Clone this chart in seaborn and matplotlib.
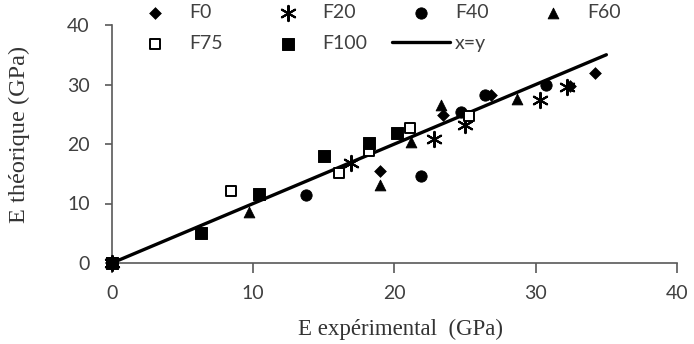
import matplotlib
matplotlib.use("Agg")
import matplotlib.pyplot as plt
import seaborn as sns
import pandas as pd

# ---- data ----
f0_x = [0, 19.0, 23.4, 26.8, 32.4, 34.2]
f0_y = [0, 15.5, 24.9, 28.3, 29.7, 31.9]
f20_x = [0, 16.9, 22.8, 25.0, 30.3, 32.2]
f20_y = [0, 16.8, 20.8, 23.2, 27.4, 29.5]
f40_x = [0, 13.7, 21.9, 24.7, 26.4, 30.7]
f40_y = [0, 11.4, 14.6, 25.3, 28.2, 29.9]
f60_x = [0, 9.7, 19.0, 21.2, 23.3, 28.7]
f60_y = [0, 8.5, 13.1, 20.4, 26.6, 27.6]
f75_x = [0, 8.4, 16.1, 18.2, 21.1, 25.3]
f75_y = [0, 12.1, 15.2, 18.9, 22.7, 24.7]
f100_x = [0, 6.3, 10.4, 15.0, 18.2, 20.2]
f100_y = [0, 5.0, 11.6, 17.9, 20.1, 21.8]
line_x = [0, 35]
line_y = [0, 35]
series_names = ["F0", "F20", "F40", "F60", "F75", "F100"]
ticks = [0, 10, 20, 30, 40]
xlabel = "E expérimental  (GPa)"
ylabel = "E théorique (GPa)"

series = {
    "F0": (f0_x, f0_y), "F20": (f20_x, f20_y), "F40": (f40_x, f40_y),
    "F60": (f60_x, f60_y), "F75": (f75_x, f75_y), "F100": (f100_x, f100_y),
}
rows = []
for name in series_names:
    xs, ys = series[name]
    for a, b in zip(xs, ys):
        rows.append({"exp": a, "theo": b, "serie": name})
df = pd.DataFrame(rows)
df_line = pd.DataFrame({"exp": line_x, "theo": line_y})

sns.set_theme(style="white")
plt.rcParams["font.family"] = ["Lato", "DejaVu Sans"]

fig = plt.figure(figsize=(6.94, 3.44), dpi=100)
ax = fig.add_axes([112 / 694, 1 - 263 / 344, (677 - 112) / 694, (263 - 25) / 344])

styles = {
    "F0": dict(marker="D", s=36, facecolor="black", edgecolor="black"),
    "F20": dict(marker=(6, 2, 0), s=120, facecolor="black", edgecolor="black", linewidth=1.5),
    "F40": dict(marker="o", s=66, facecolor="black", edgecolor="black"),
    "F60": dict(marker="^", s=60, facecolor="black", edgecolor="black"),
    "F75": dict(marker="s", s=56, facecolor="white", edgecolor="black", linewidth=1.4),
    "F100": dict(marker="s", s=72, facecolor="black", edgecolor="black"),
}
for name in series_names:
    sub = df[df["serie"] == name]
    sns.scatterplot(data=sub, x="exp", y="theo", ax=ax, label=name, zorder=3,
                    clip_on=False, **styles[name])

sns.lineplot(data=df_line, x="exp", y="theo", ax=ax, color="black",
             linewidth=2.4, label="x=y", zorder=2)

ax.set_xlim(0, 40)
ax.set_ylim(0, 40)
ax.set_xticks(ticks)
ax.set_yticks(ticks)
for sp in ["top", "right"]:
    ax.spines[sp].set_visible(False)
for sp in ["left", "bottom"]:
    ax.spines[sp].set_color("#595959")
    ax.spines[sp].set_linewidth(1.2)
ax.tick_params(axis="both", which="both", direction="out", width=1.2,
               color="#595959", labelsize=14, labelcolor="#404040",
               bottom=True, left=True)
ax.tick_params(axis="x", length=7, pad=9)
ax.tick_params(axis="y", length=5, pad=11)

ax.set_xlabel(xlabel, family=["Liberation Serif"], fontsize=16.5, color="#333333")
ax.set_ylabel(ylabel, family=["Liberation Serif"], fontsize=17.5, color="#333333")
ax.xaxis.set_label_coords(0.51, -0.235)
ax.yaxis.set_label_coords(-0.145, 0.54)

h, l = ax.get_legend_handles_labels()
ax.get_legend().remove()
hd = dict(zip(l, h))
columns = [["F0", "F75"], ["F20", "F100"], ["F40", "x=y"], ["F60"]]
col_left = [126, 259, 392, 524]
for names, xl in zip(columns, col_left):
    leg = fig.legend([hd[k] for k in names], names, frameon=False,
                     loc="upper left", bbox_to_anchor=(xl / 694, 1 - 4 / 344),
                     fontsize=14, handlelength=3, handletextpad=0.25,
                     borderpad=0, borderaxespad=0, labelspacing=0.7,
                     labelcolor="#404040")

fig.savefig("out.png", dpi=100)
